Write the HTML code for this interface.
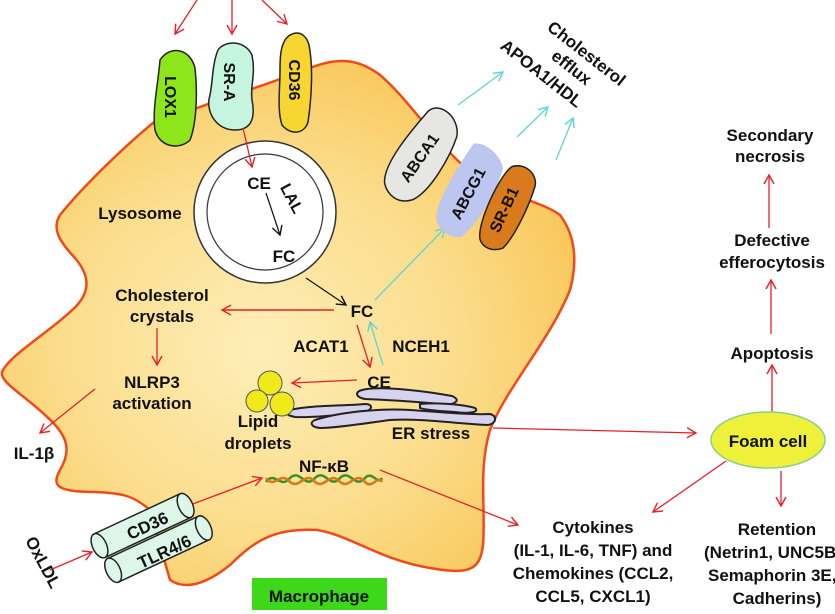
<!DOCTYPE html>
<html><head><meta charset="utf-8"><style>
html,body{margin:0;padding:0;background:#fff}
svg{display:block}
text{font-family:"Liberation Sans",Arial,sans-serif;font-weight:bold;fill:#111;font-size:17px}
</style></head><body>
<svg width="835" height="614" viewBox="0 0 835 614" xmlns="http://www.w3.org/2000/svg">
<defs>
<radialGradient id="cell" cx="0.45" cy="0.55" r="0.65">
<stop offset="0" stop-color="#fdeeb8"/><stop offset="0.55" stop-color="#fbdc8a"/><stop offset="1" stop-color="#f8c24e"/>
</radialGradient>
<marker id="ar" markerWidth="12" markerHeight="12" refX="10" refY="6" orient="auto" markerUnits="userSpaceOnUse"><path d="M1,1 L10,6 L1,11" fill="none" stroke="#e8202a" stroke-width="1.4"/></marker>
<marker id="ac" markerWidth="12" markerHeight="12" refX="10" refY="6" orient="auto" markerUnits="userSpaceOnUse"><path d="M1,1 L10,6 L1,11" fill="none" stroke="#5fd3d8" stroke-width="1.4"/></marker>
<marker id="ak" markerWidth="12" markerHeight="12" refX="10" refY="6" orient="auto" markerUnits="userSpaceOnUse"><path d="M1,1 L10,6 L1,11" fill="none" stroke="#111" stroke-width="1.4"/></marker>
</defs>
<path d="M153,123 C120,150 80,190 60,215 C52,228 58,240 75,258 C92,278 90,295 70,312 C45,335 10,355 2,372 C0,382 20,392 45,415 C68,435 72,450 60,470 C52,485 55,492 95,492 C125,493 135,497 150,510 L170,580 C185,590 205,585 230,565 C255,540 275,528 317,530 C350,535 380,560 430,568 C470,575 480,570 483,545 C486,510 478,470 490,430 C505,390 550,340 570,290 C578,260 575,235 560,215 C540,200 500,195 475,175 C440,150 410,100 380,75 C360,60 340,56 310,68 C280,80 230,96 200,107 C180,114 165,116 153,123 Z" fill="url(#cell)" stroke="#f04a1a" stroke-width="2.5"/>
<path d="M160,60 C170,45 190,48 195,68 C198,95 196,125 190,140 C180,150 160,148 155,130 C152,110 158,85 160,60 Z" fill="#8ee61a" stroke="#222" stroke-width="1.5"/>
<text transform="translate(170,97) rotate(90)" style="font-size:16px" text-anchor="middle" x="0" y="5">LOX1</text>
<path d="M218,50 C225,40 245,40 252,55 C256,75 250,85 252,100 C256,120 250,130 235,130 C215,130 205,110 210,95 C213,80 212,65 218,50 Z" fill="#c6f5df" stroke="#222" stroke-width="1.5"/>
<text transform="translate(229,82) rotate(90)" style="font-size:16px" text-anchor="middle" x="0" y="5">SR-A</text>
<path d="M285,40 C292,30 305,30 309,45 C313,65 312,95 308,122 C304,135 290,135 282,125 C277,110 280,90 280,70 C280,55 281,47 285,40 Z" fill="#f7d631" stroke="#222" stroke-width="1.5"/>
<text transform="translate(294,80) rotate(90)" style="font-size:16px" text-anchor="middle" x="0" y="5">CD36</text>
<line x1="197" y1="0" x2="175" y2="34" stroke="#e8202a" stroke-width="1.3" marker-end="url(#ar)"/>
<line x1="232" y1="0" x2="232" y2="34" stroke="#e8202a" stroke-width="1.3" marker-end="url(#ar)"/>
<line x1="262" y1="0" x2="287" y2="24" stroke="#e8202a" stroke-width="1.3" marker-end="url(#ar)"/>
<circle cx="265" cy="212" r="71" fill="#fff" stroke="#333" stroke-width="1.5"/>
<circle cx="265" cy="212" r="58" fill="#fff" stroke="#333" stroke-width="1.2"/>
<line x1="243" y1="128" x2="252" y2="167" stroke="#e8202a" stroke-width="1.3" marker-end="url(#ar)"/>
<text x="259" y="189" text-anchor="middle">CE</text>
<text transform="translate(287,201) rotate(62)" style="font-size:16px" text-anchor="middle">LAL</text>
<line x1="266" y1="193" x2="280" y2="235" stroke="#111" stroke-width="1.2" marker-end="url(#ak)"/>
<text x="284" y="262" text-anchor="middle">FC</text>
<text x="140" y="219" text-anchor="middle">Lysosome</text>
<line x1="306" y1="278" x2="346" y2="305" stroke="#111" stroke-width="1.2" marker-end="url(#ak)"/>
<text x="362" y="317" text-anchor="middle">FC</text>
<line x1="334" y1="310" x2="222" y2="310" stroke="#e8202a" stroke-width="1.5" marker-end="url(#ar)"/>
<text x="162" y="301" text-anchor="middle">Cholesterol</text>
<text x="162" y="322" text-anchor="middle">crystals</text>
<line x1="157" y1="328" x2="157" y2="365" stroke="#e8202a" stroke-width="1.3" marker-end="url(#ar)"/>
<text x="152" y="388" text-anchor="middle">NLRP3</text>
<text x="152" y="409" text-anchor="middle">activation</text>
<line x1="95" y1="389" x2="40" y2="433" stroke="#e8202a" stroke-width="1.3" marker-end="url(#ar)"/>
<text x="34" y="459" text-anchor="middle">IL-1β</text>
<text x="321" y="352" text-anchor="middle">ACAT1</text>
<text x="421" y="352" text-anchor="middle">NCEH1</text>
<line x1="357" y1="325" x2="370" y2="367" stroke="#e8202a" stroke-width="1.3" marker-end="url(#ar)"/>
<line x1="383" y1="365" x2="370" y2="322" stroke="#5fd3d8" stroke-width="1.3" marker-end="url(#ac)"/>
<text x="379" y="388" text-anchor="middle">CE</text>
<line x1="357" y1="380" x2="292" y2="383" stroke="#e8202a" stroke-width="1.3" marker-end="url(#ar)"/>
<g fill="#d7d3ee" stroke="#222" stroke-width="2">
<path d="M362,390 C380,385 430,392 452,396 C462,400 455,406 440,404 C420,402 390,400 365,399 C355,397 355,392 362,390 Z"/>
<path d="M290,410 C310,405 345,406 365,404 C375,404 372,412 360,413 C340,415 310,418 295,417 C285,415 285,412 290,410 Z"/>
<path d="M315,420 C340,412 380,408 410,410 C440,412 470,415 490,414 C498,416 496,424 488,425 C460,424 420,418 390,420 C360,424 335,428 320,428 C310,427 310,422 315,420 Z"/>
<path d="M420,404 C440,402 465,405 475,408 C480,412 470,414 455,412 C440,411 425,410 420,408 Z"/>
</g>
<circle cx="270" cy="383" r="12" fill="#f0ea1a" stroke="#555" stroke-width="1"/>
<circle cx="257" cy="401" r="11" fill="#f0ea1a" stroke="#555" stroke-width="1"/>
<circle cx="282" cy="404" r="12" fill="#f0ea1a" stroke="#555" stroke-width="1"/>
<text x="258" y="427" text-anchor="middle">Lipid</text>
<text x="258" y="449" text-anchor="middle">droplets</text>
<text x="431" y="439" text-anchor="middle">ER stress</text>
<text x="324" y="472" text-anchor="middle">NF-κB</text>
<path d="M266,482 C275,470 280,490 290,478 C300,468 305,490 315,478 C325,468 330,490 340,478 C350,468 355,490 365,478 C372,470 378,486 382,478" fill="none" stroke="#3a8f2a" stroke-width="2.5"/>
<path d="M266,478 C275,490 280,470 290,482 C300,490 305,470 315,482 C325,490 330,470 340,482 C350,490 355,470 365,482 C372,490 378,474 382,482" fill="none" stroke="#d47a18" stroke-width="2.5"/>
<line x1="190" y1="505" x2="262" y2="478" stroke="#e8202a" stroke-width="1.3" marker-end="url(#ar)"/>
<line x1="380" y1="470" x2="518" y2="525" stroke="#e8202a" stroke-width="1.3" marker-end="url(#ar)"/>
<g transform="translate(152,540) rotate(-25)" stroke="#222" stroke-width="1.5" fill="#dcf7ea">
<rect x="-50" y="-30" width="95" height="26"/>
<ellipse cx="-50" cy="-17" rx="7" ry="13"/>
<ellipse cx="45" cy="-17" rx="7" ry="13"/>
<rect x="-48" y="-2" width="100" height="26"/>
<ellipse cx="-48" cy="11" rx="7" ry="13"/>
<ellipse cx="52" cy="11" rx="7" ry="13"/>
</g>
<text transform="translate(150,531) rotate(-25)" text-anchor="middle">CD36</text>
<text transform="translate(167,557) rotate(-25)" text-anchor="middle">TLR4/6</text>
<text transform="translate(38,565) rotate(62)" text-anchor="middle">OxLDL</text>
<line x1="50" y1="570" x2="92" y2="552" stroke="#e8202a" stroke-width="1.3" marker-end="url(#ar)"/>
<rect x="252" y="578" width="135" height="32" fill="#3ed81a"/>
<text x="319" y="602" text-anchor="middle">Macrophage</text>
<line x1="375" y1="300" x2="445" y2="228" stroke="#5fd3d8" stroke-width="1.3" marker-end="url(#ac)"/>
<g transform="translate(422,155) rotate(-55)">
<path d="M-45,-14 C-30,-28 20,-22 40,-20 C55,-15 52,10 35,18 C15,24 -25,28 -42,18 C-55,8 -52,-6 -45,-14 Z" fill="#e6e6e2" stroke="#222" stroke-width="1.5"/>
</g>
<text transform="translate(424,161) rotate(-55)" style="font-size:16px" text-anchor="middle">ABCA1</text>
<g transform="translate(470,190) rotate(-60)">
<path d="M-45,-12 C-35,-25 20,-22 42,-20 C50,-10 45,10 35,18 C10,24 -25,24 -45,16 C-52,6 -50,-4 -45,-12 Z" fill="#bcc6ee"/>
</g>
<text transform="translate(473,196) rotate(-62)" style="font-size:16px" text-anchor="middle">ABCG1</text>
<g transform="translate(507,206) rotate(-65)">
<path d="M-42,-10 C-30,-20 25,-20 38,-12 C48,0 40,15 30,17 C10,20 -25,20 -40,14 C-48,6 -48,-4 -42,-10 Z" fill="#d97b1c" stroke="#222" stroke-width="1.5"/>
</g>
<text transform="translate(509,212) rotate(-65)" style="font-size:16px" text-anchor="middle">SR-B1</text>
<line x1="458" y1="105" x2="503" y2="72" stroke="#5fd3d8" stroke-width="1.3" marker-end="url(#ac)"/>
<line x1="517" y1="137" x2="548" y2="107" stroke="#5fd3d8" stroke-width="1.3" marker-end="url(#ac)"/>
<line x1="556" y1="160" x2="573" y2="118" stroke="#5fd3d8" stroke-width="1.3" marker-end="url(#ac)"/>
<text transform="translate(583,58) rotate(38)" text-anchor="middle">Cholesterol</text>
<text transform="translate(568,72) rotate(38)" text-anchor="middle">efflux</text>
<text transform="translate(538,78) rotate(38)" text-anchor="middle">APOA1/HDL</text>
<text x="770" y="141" text-anchor="middle">Secondary</text>
<text x="770" y="162" text-anchor="middle">necrosis</text>
<line x1="769" y1="228" x2="769" y2="175" stroke="#e8202a" stroke-width="1.3" marker-end="url(#ar)"/>
<text x="772" y="246" text-anchor="middle">Defective</text>
<text x="772" y="268" text-anchor="middle">efferocytosis</text>
<line x1="771" y1="334" x2="771" y2="280" stroke="#e8202a" stroke-width="1.3" marker-end="url(#ar)"/>
<text x="772" y="359" text-anchor="middle">Apoptosis</text>
<line x1="772" y1="414" x2="772" y2="365" stroke="#e8202a" stroke-width="1.3" marker-end="url(#ar)"/>
<ellipse cx="768" cy="440" rx="57" ry="28" fill="#eef03a" stroke="#8ccf8a" stroke-width="1.5"/>
<text x="768" y="447" text-anchor="middle">Foam cell</text>
<line x1="493" y1="428" x2="696" y2="433" stroke="#e8202a" stroke-width="1.3" marker-end="url(#ar)"/>
<line x1="726" y1="461" x2="653" y2="512" stroke="#e8202a" stroke-width="1.3" marker-end="url(#ar)"/>
<line x1="781" y1="471" x2="781" y2="506" stroke="#e8202a" stroke-width="1.3" marker-end="url(#ar)"/>
<text x="593" y="533" text-anchor="middle">Cytokines</text>
<text x="593" y="556" text-anchor="middle">(IL-1, IL-6, TNF) and</text>
<text x="593" y="579" text-anchor="middle">Chemokines (CCL2,</text>
<text x="593" y="602" text-anchor="middle">CCL5, CXCL1)</text>
<text x="777" y="535" text-anchor="middle">Retention</text>
<text x="704" y="558">(Netrin1, UNC5B,</text>
<text x="708" y="581">Semaphorin 3E,</text>
<text x="777" y="604" text-anchor="middle">Cadherins)</text>
</svg>
</body></html>
